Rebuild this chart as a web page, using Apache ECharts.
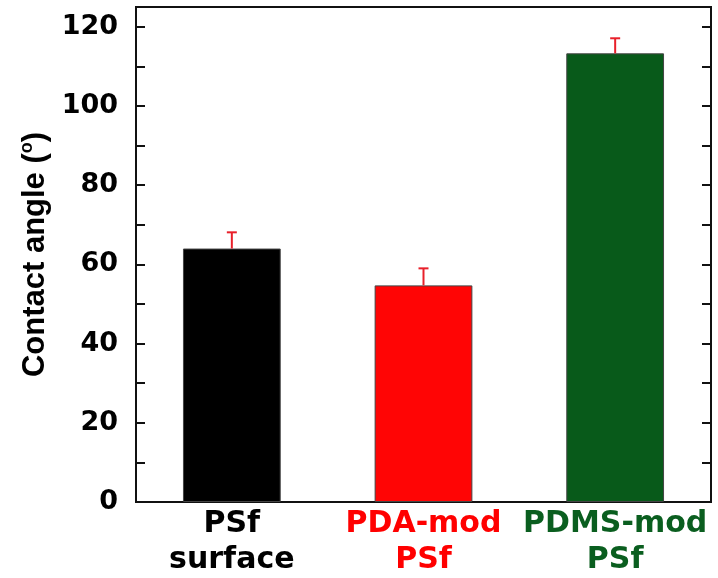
<!DOCTYPE html>
<html>
<head>
<meta charset="utf-8">
<script src="https://cdn.jsdelivr.net/npm/echarts@6/dist/echarts.min.js"></script>
<style>
html,body{margin:0;padding:0;background:#fff;}
#chart{width:718px;height:578px;}
</style>
</head>
<body>
<div id="chart"></div>
<script>
const categories = ['PSf\nsurface', 'PDA-mod\nPSf', 'PDMS-mod\nPSf'];
const values = [64.0, 54.7, 113.3];
const errors = [4.1, 4.3, 3.8];
const barColors = ['#000000', '#ff0505', '#085a1a'];
const labelColors = ['#000000', '#ff0000', '#0a5e1f'];
const yTicks = { min: 0, max: 125, interval: 20 };

const FONT = 'DejaVu Sans';
const NAMEFONT = 'Liberation Sans';
const chart = echarts.init(document.getElementById('chart'));

const barData = values.map((v, i) => ({
  value: v,
  itemStyle: { color: barColors[i] }
}));
const errData = values.map((v, i) => [i, v, errors[i]]);

const yCommon = {
  type: 'value',
  min: yTicks.min,
  max: yTicks.max,
  interval: yTicks.interval,
  splitLine: { show: false },
  axisLine: { show: true, lineStyle: { color: '#111', width: 2 } },
  axisTick: { show: true, inside: true, length: 9, lineStyle: { color: '#111', width: 2 } },
  minorTick: { show: true, splitNumber: 2, length: 9, lineStyle: { color: '#111', width: 2 } }
};

chart.setOption({
  animation: false,
  backgroundColor: '#fff',
  grid: { left: 136, right: 7, top: 7, bottom: 76, show: true, borderColor: '#111', borderWidth: 2, containLabel: false },
  xAxis: [{
    type: 'category',
    data: categories,
    axisLine: { show: true, lineStyle: { color: '#111', width: 2 } },
    axisTick: { show: false },
    axisLabel: {
      interval: 0,
      margin: 4,
      fontFamily: FONT,
      fontWeight: 'bold',
      fontSize: 30,
      lineHeight: 36,
      color: function (val, idx) { return labelColors[idx]; }
    }
  }],
  yAxis: [
    Object.assign({}, yCommon, {
      position: 'left',
      name: '{m|Contact angle (}{s|o}{m|)}',
      nameLocation: 'middle',
      nameGap: 78,
      nameRotate: 90,
      nameTextStyle: {
        rich: {
          m: { fontFamily: NAMEFONT, fontWeight: 'bold', fontSize: 31, color: '#000' },
          s: { fontFamily: NAMEFONT, fontWeight: 'bold', fontSize: 18, color: '#000', verticalAlign: 'top', padding: [0, 0, 16, 0] }
        }
      },
      axisLabel: {
        margin: 18,
        fontFamily: FONT,
        fontWeight: 'bold',
        fontSize: 27,
        color: '#000',
        showMaxLabel: false
      }
    }),
    Object.assign({}, yCommon, {
      position: 'right',
      axisLabel: { show: false }
    })
  ],
  series: [
    {
      type: 'bar',
      data: barData,
      barWidth: '51%',
      itemStyle: { borderColor: '#444', borderWidth: 1 },
      z: 2
    },
    {
      type: 'custom',
      data: errData,
      z: 3,
      clip: false,
      renderItem: function (params, api) {
        const i = api.value(0);
        const v = api.value(1);
        const e = api.value(2);
        const base = api.coord([i, v]);
        const top = api.coord([i, v + e]);
        const half = 5;
        const style = { stroke: '#e8202a', lineWidth: 2 };
        return {
          type: 'group',
          children: [
            { type: 'line', shape: { x1: base[0], y1: base[1], x2: top[0], y2: top[1] }, style: style },
            { type: 'line', shape: { x1: top[0] - half, y1: top[1], x2: top[0] + half, y2: top[1] }, style: style }
          ]
        };
      }
    }
  ]
});
</script>
</body>
</html>
